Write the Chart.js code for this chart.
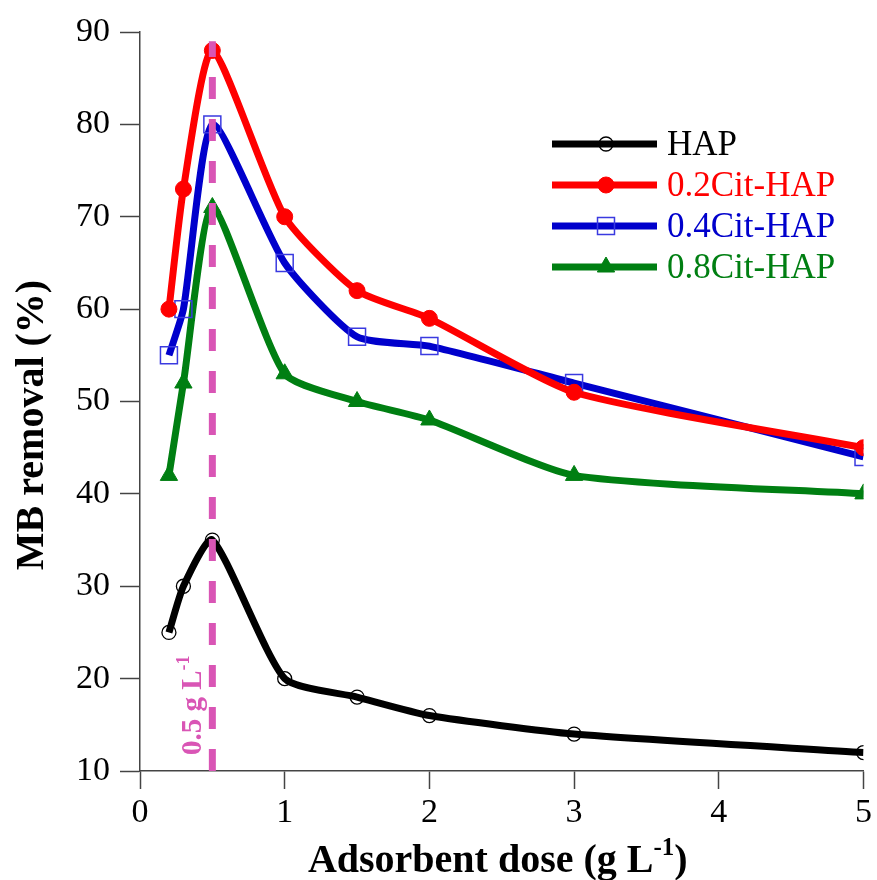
<!DOCTYPE html>
<html>
<head>
<meta charset="utf-8">
<script src="https://cdn.jsdelivr.net/npm/chart.js@4.4.0/dist/chart.umd.min.js"></script>
<style>
  html, body { margin: 0; padding: 0; background: #fff; }
  #wrap { width: 877px; height: 880px; }
</style>
</head>
<body>
<div id="wrap"><canvas id="doseChart" width="877" height="880"></canvas></div>
<script>
// Adsorbent dose (g/L) and MB removal (%) per sample
const doses = [0.2, 0.3, 0.5, 1, 1.5, 2, 3, 5];
const hap = [25, 30, 35, 20, 18, 16, 14, 12];
const cit02 = [60, 73, 88, 70, 62, 59, 51, 45];
const cit04 = [55, 60, 80, 65, 57, 56, 52, 44];
const cit08 = [42, 52, 71, 53, 50, 48, 42, 40];
const seriesNames = ["HAP", "0.2Cit-HAP", "0.4Cit-HAP", "0.8Cit-HAP"];
const xTicks = [0, 1, 2, 3, 4, 5];
const yTicks = [10, 20, 30, 40, 50, 60, 70, 80, 90];
// optimum dose marker
const optimumDose = 0.5;
const optimumSpan = [10, 89];

const SERIF = "'Liberation Serif', 'Times New Roman', serif";
const pink = "#D955B5";

function toPoints(ys) {
  return doses.map((d, i) => ({ x: d, y: ys[i] }));
}

const styles = [
  { color: "#000000", pointStyle: "circle", radius: 7, fill: "rgba(0,0,0,0)", pointBorder: "#000000", pointBorderWidth: 1.3 },
  { color: "#FF0000", pointStyle: "circle", radius: 8, fill: "#FF0000", pointBorder: "#FF0000", pointBorderWidth: 1 },
  { color: "#0000CC", pointStyle: "rect", radius: 12, fill: "rgba(0,0,0,0)", pointBorder: "#3A3AE0", pointBorderWidth: 1.5 },
  { color: "#007F12", pointStyle: "triangle", radius: 10, fill: "#007F12", pointBorder: "#007F12", pointBorderWidth: 1 },
];
const seriesValues = [hap, cit02, cit04, cit08];

const datasets = seriesValues.map((vals, i) => ({
  label: seriesNames[i],
  data: toPoints(vals),
  borderColor: styles[i].color,
  borderWidth: 7,
  tension: 0.2,
  pointStyle: styles[i].pointStyle,
  pointRadius: styles[i].radius,
  pointBackgroundColor: styles[i].fill,
  pointBorderColor: styles[i].pointBorder,
  pointBorderWidth: styles[i].pointBorderWidth,
  order: 1,
}));

datasets.push({
  label: "optimum",
  data: optimumSpan.map(v => ({ x: optimumDose, y: v })),
  borderColor: pink,
  borderWidth: 7,
  borderDash: [22, 20],
  pointRadius: 0,
  order: 0,
});

// text with superscript pieces
function drawParts(ctx, parts, x, y, size, align) {
  const base = "bold " + size + "px " + SERIF;
  const sup = "bold " + Math.round(size * 0.62) + "px " + SERIF;
  let total = 0;
  parts.forEach(p => {
    ctx.font = p.sup ? sup : base;
    total += ctx.measureText(p.text).width;
  });
  let cx = align === "center" ? x - total / 2 : x;
  ctx.textAlign = "left";
  ctx.textBaseline = "alphabetic";
  parts.forEach(p => {
    ctx.font = p.sup ? sup : base;
    ctx.fillText(p.text, cx, p.sup ? y - size * 0.42 : y);
    cx += ctx.measureText(p.text).width;
  });
}

const decorations = {
  id: "decorations",
  afterDraw(chart) {
    const ctx = chart.ctx;
    const xs = chart.scales.x;
    const area = chart.chartArea;
    ctx.save();
    ctx.fillStyle = "#000";

    // x title
    drawParts(ctx, [{ text: "Adsorbent dose (g L" }, { text: "-1", sup: true }, { text: ")" }],
      (area.left + area.right) / 2 - 4, 872, 40, "center");

    // y title
    ctx.save();
    ctx.translate(43, 425);
    ctx.rotate(-Math.PI / 2);
    drawParts(ctx, [{ text: "MB removal (%)" }], 0, 0, 40, "center");
    ctx.restore();

    // optimum label
    ctx.save();
    ctx.fillStyle = pink;
    ctx.translate(xs.getPixelForValue(optimumDose) - 11, area.bottom - 16);
    ctx.rotate(-Math.PI / 2);
    drawParts(ctx, [{ text: "0.5 g L" }, { text: "-1", sup: true }], 0, 0, 29, "left");
    ctx.restore();

    // legend
    const rowY = [144, 185, 226, 267];
    seriesNames.forEach((name, i) => {
      const s = styles[i];
      const y = rowY[i];
      ctx.strokeStyle = s.color;
      ctx.lineWidth = 7;
      ctx.beginPath();
      ctx.moveTo(552, y);
      ctx.lineTo(657, y);
      ctx.stroke();
      ctx.fillStyle = s.fill;
      ctx.strokeStyle = s.pointBorder;
      ctx.lineWidth = s.pointBorderWidth;
      Chart.helpers.drawPoint(ctx, { pointStyle: s.pointStyle, radius: s.radius, rotation: 0, borderWidth: s.pointBorderWidth }, 606, y);
      ctx.fillStyle = s.color;
      ctx.font = "35px " + SERIF;
      ctx.textAlign = "left";
      ctx.textBaseline = "middle";
      ctx.fillText(name, 667, y + 2);
    });
    ctx.restore();
  },
};

new Chart(document.getElementById("doseChart").getContext("2d"), {
  type: "line",
  data: { datasets: datasets },
  options: {
    responsive: false,
    animation: false,
    layout: { padding: { left: 0, right: 11, top: 32, bottom: 0 } },
    plugins: { legend: { display: false }, tooltip: { enabled: false } },
    scales: {
      x: {
        type: "linear",
        min: 0,
        max: 5,
        afterBuildTicks: (scale) => { scale.ticks = xTicks.map(v => ({ value: v })); },
        afterFit: (scale) => { scale.height = 109; },
        ticks: { color: "#000", font: { family: SERIF, size: 34 }, padding: 4, maxRotation: 0 },
        grid: { drawOnChartArea: false, drawTicks: true, tickLength: 18, tickColor: "#444", tickWidth: 1.5 },
        border: { color: "#444", width: 1.5 },
      },
      y: {
        min: 10,
        max: 90,
        afterBuildTicks: (scale) => { scale.ticks = yTicks.map(v => ({ value: v })); },
        afterFit: (scale) => { scale.width = 140; },
        ticks: { color: "#000", font: { family: SERIF, size: 34 }, padding: 10 },
        grid: { drawOnChartArea: false, drawTicks: true, tickLength: 20, tickColor: "#444", tickWidth: 1.5 },
        border: { color: "#444", width: 1.5 },
      },
    },
  },
  plugins: [decorations],
});
</script>
</body>
</html>
